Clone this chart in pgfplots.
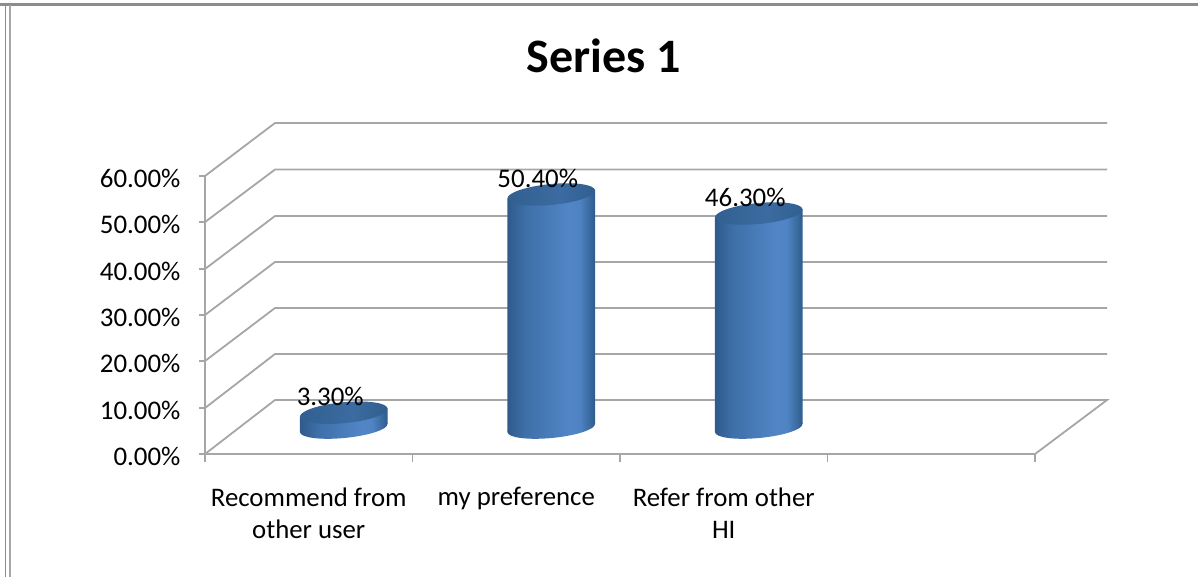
\documentclass[border=0pt]{standalone}
\usepackage{pgfplots}
\pgfplotsset{compat=1.18}
\usepackage{fontspec}
\setmainfont{Carlito}
\definecolor{gridgray}{HTML}{A6A6A6}
\definecolor{framegray}{HTML}{8C8C8C}
\definecolor{sideA}{HTML}{2F5A8C}
\definecolor{sideB}{HTML}{3D6FA8}
\definecolor{sideC}{HTML}{5185C6}
\definecolor{sideD}{HTML}{4F84C4}
\definecolor{sideE}{HTML}{2E5C8C}
\definecolor{topA}{HTML}{315F90}
\definecolor{topB}{HTML}{3B6BA1}
\definecolor{topC}{HTML}{305E8E}

% Side of the cylinder: dark at both edges, brightest right of the middle
\pgfdeclarehorizontalshading{cylside}{100bp}{%
  color(0bp)=(sideA);
  color(25bp)=(sideA);
  color(35bp)=(sideB);
  color(60bp)=(sideC);
  color(66bp)=(sideD);
  color(75bp)=(sideE);
  color(100bp)=(sideE)}
\pgfdeclarehorizontalshading{cyltop}{100bp}{%
  color(0bp)=(topA);
  color(25bp)=(topA);
  color(55bp)=(topB);
  color(75bp)=(topC);
  color(100bp)=(topC)}

% Tilted cylinder hanging down from the data point; \barval is its value
\newcommand{\unitpx}{4.6333}
\pgfdeclareplotmark{tiltcyl}{%
  \pgfmathsetmacro{\cylh}{\barval*\unitpx}%
  \pgfpathellipse{\pgfpoint{0pt}{-\cylh pt}}{\pgfpoint{43.8pt}{4.2pt}}{\pgfpoint{-0.96pt}{9.95pt}}%
  \pgfshadepath{cylside}{0}\pgfusepath{discard}%
  \pgfpathmoveto{\pgfpoint{-43.8pt}{-4.2pt}}%
  \pgfpathlineto{\pgfpoint{43.8pt}{4.2pt}}%
  \pgfpathlineto{\pgfpoint{43.8pt}{4.2pt-\cylh pt}}%
  \pgfpathlineto{\pgfpoint{-43.8pt}{-4.2pt-\cylh pt}}%
  \pgfpathclose
  \pgfshadepath{cylside}{0}\pgfusepath{discard}%
  \pgfpathellipse{\pgfpoint{0pt}{0pt}}{\pgfpoint{43.8pt}{4.2pt}}{\pgfpoint{-1.0pt}{10.4pt}}%
  \pgfshadepath{cyltop}{0}\pgfusepath{discard}%
}

\begin{document}
\begin{tikzpicture}
\useasboundingbox (0,0) rectangle (1198pt,577pt);

% Chart frame, side wall and back wall, in page pixels
\begin{axis}[
  at={(0pt,0pt)}, anchor=south west,
  width=1198pt, height=577pt, scale only axis,
  xmin=0, xmax=1198, ymin=0, ymax=577, y dir=reverse,
  hide axis, clip=false]
  \addplot[framegray, line width=2.6pt] coordinates {(0,4.5) (1198,4.5)};
  \addplot[framegray, line width=1.4pt] coordinates {(5.5,4) (5.5,577)};
  \addplot[gridgray, line width=2.2pt] coordinates {(10,5) (10,577)};
  \addplot[gridgray, line width=1.8pt] coordinates {(205,176) (275,123) (1107,123)};
  \addplot[gridgray, line width=1.8pt] coordinates {(205,222) (275,169.5) (1107,169.5)};
  \addplot[gridgray, line width=1.8pt] coordinates {(205,269) (275,216) (1107,216)};
  \addplot[gridgray, line width=1.8pt] coordinates {(205,315) (275,262) (1107,262)};
  \addplot[gridgray, line width=1.8pt] coordinates {(205,361) (275,308) (1107,308)};
  \addplot[gridgray, line width=1.8pt] coordinates {(205,408) (275,354) (1107,354)};
  \addplot[gridgray, line width=1.8pt] coordinates {(205,454) (275,400) (1107,400) (1035,454)};
  \node[font=\fontsize{48}{54}\selectfont\bfseries, text=black] at (axis cs:604,56) {Series 1};
\end{axis}

% Front plane: value axis and category axis
\begin{axis}[
  at={(205pt,123pt)}, anchor=south west,
  width=830pt, height=278pt, scale only axis,
  xmin=0, xmax=4, ymin=0, ymax=60,
  axis lines=left, axis line style={gridgray, line width=1.8pt, -},
  ytick={0,10,20,30,40,50,60},
  yticklabel={\pgfmathprintnumber[fixed,fixed zerofill,precision=2,/pgf/number format/assume math mode=true]{\tick}\%},
  yticklabel style={font=\fontsize{26.9}{30}\selectfont, text=black, xshift=-15pt, yshift=-2.5pt},
  ytick style={gridgray, line width=1.8pt},
  xtick={0.5,1.5,2.5},
  xticklabels={{Recommend from\\other user},{my preference},{Refer from other\\HI}},
  xticklabel style={font=\fontsize{26.8}{32}\selectfont, text=black, align=center, yshift=-24pt},
  major x tick style={draw=none},
  minor xtick={0,1,2,3,4},
  minor x tick style={gridgray, line width=1.8pt},
  minor tick length=8pt,
  major tick length=6pt,
  tick align=outside,
  clip=false]
\end{axis}

% Cylinders stand halfway back between the front plane and the back wall
\begin{axis}[
  at={(240pt,149pt)}, anchor=south west,
  width=830pt, height=278pt, scale only axis,
  xmin=0, xmax=4, ymin=0, ymax=60,
  hide axis, clip=false]
  \addplot[
    scatter, only marks, mark=tiltcyl,
    point meta=y,
    visualization depends on={y \as \barval},
    nodes near coords={\pgfmathprintnumber[fixed,fixed zerofill,precision=2,/pgf/number format/assume math mode=true]{\pgfplotspointmeta}\%},
    nodes near coords style={font=\fontsize{26.9}{30}\selectfont, text=black, anchor=center, xshift=-13.5pt, yshift=16.5pt},
  ] coordinates {(0.5,3.3) (1.5,50.4) (2.5,46.3)};
\end{axis}
\end{tikzpicture}
\end{document}
